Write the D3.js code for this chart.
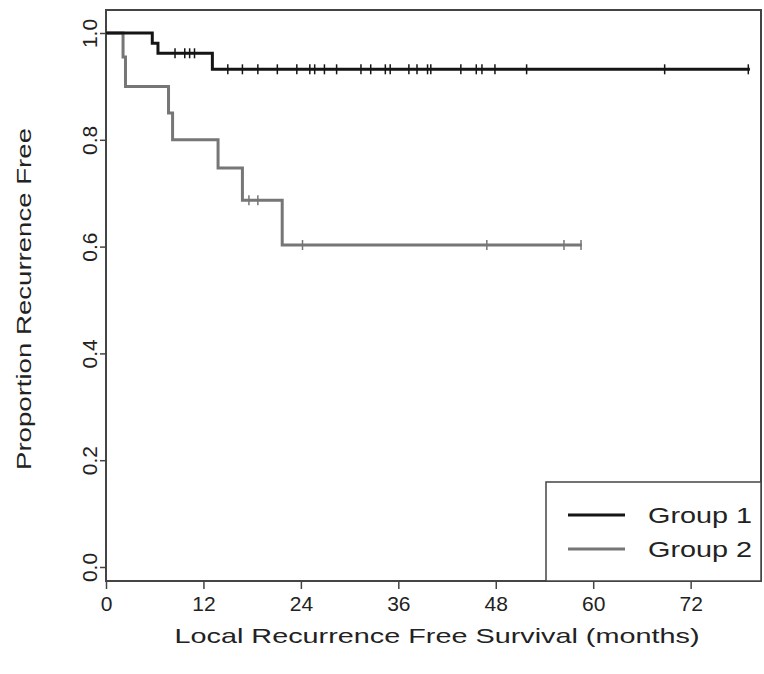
<!DOCTYPE html>
<html>
<head>
<meta charset="utf-8">
<script src="https://cdn.jsdelivr.net/npm/d3@7"></script>
<style>
  body { margin: 0; background: #fff; }
  text { font-family: "Liberation Sans", Arial, sans-serif; fill: #222; }
</style>
</head>
<body>
<svg id="chart" width="764" height="674"></svg>
<script>
// km step points: [months, proportion]
const group1Steps = [[0, 1], [5.7, 0.981], [6.4, 0.962], [13.1, 0.932]];
const group1End = 79.3;
const group1Censor = [8.5, 9.7, 10.3, 10.9, 15.0, 16.8, 18.7, 21.1, 23.5, 25.1, 25.7, 26.9, 28.4,
    31.4, 32.6, 34.4, 35.0, 37.3, 38.3, 39.6, 40.0, 43.7, 45.6, 46.3, 47.9, 51.8, 68.8, 79.1];

const group2Steps = [[0, 1], [2.1, 0.955], [2.4, 0.9], [7.7, 0.85], [8.2, 0.8], [13.8, 0.747], [16.8, 0.687], [21.7, 0.603]];
const group2End = 58.6;
const group2Censor = [17.6, 18.7, 24.2, 46.9, 56.4, 58.5];

const xTicks = [0, 12, 24, 36, 48, 60, 72];
const yTicks = [0, 0.2, 0.4, 0.6, 0.8, 1.0];
const groupNames = ['Group 1', 'Group 2'];
const groupColors = ['#151515', '#767676'];

const box = {left: 106, top: 10, right: 761, bottom: 581};

const x = d3.scaleLinear().domain([0, 72]).range([106, 106 + 72 * 8.12]);
const y = d3.scaleLinear().domain([0, 1]).range([567, 33]);

const svg = d3.select('#chart');

// step value at time t
const stepAt = (steps, t) => {
    let v = steps[0][1];
    steps.forEach(s => { if (s[0] <= t) v = s[1]; });
    return v;
}

const drawGroup = (steps, end, censor, color) => {
    let pts = steps.concat([[end, steps[steps.length - 1][1]]]);
    let line = d3.line()
        .curve(d3.curveStepAfter)
        .x(d => x(d[0]))
        .y(d => y(d[1]));

    svg.append('path')
        .datum(pts)
        .attr('d', line)
        .attr('fill', 'none')
        .attr('stroke', color)
        .attr('stroke-width', 3);

    svg.append('g')
        .selectAll('line')
        .data(censor)
        .join('line')
        .attr('x1', d => x(d))
        .attr('x2', d => x(d))
        .attr('y1', d => y(stepAt(steps, d)) - 5)
        .attr('y2', d => y(stepAt(steps, d)) + 5)
        .attr('stroke', color)
        .attr('stroke-width', 1.5);
}

// axes
const xAxis = svg.append('g')
    .attr('transform', `translate(0,${box.bottom})`)
    .call(d3.axisBottom(x).tickValues(xTicks).tickSize(8).tickPadding(7).tickFormat(d3.format('d')));
xAxis.select('.domain').remove();
xAxis.selectAll('line').attr('stroke', '#444').attr('stroke-width', 1.5);
xAxis.selectAll('text').style('font-size', '21px').attr('fill', '#222');

const yAxis = svg.append('g')
    .attr('transform', `translate(${box.left},0)`)
    .call(d3.axisLeft(y).tickValues(yTicks).tickSize(6).tickFormat(d3.format('.1f')));
yAxis.select('.domain').remove();
yAxis.selectAll('line').attr('stroke', '#444').attr('stroke-width', 1.5);
yAxis.selectAll('text')
    .style('font-size', '21px')
    .attr('fill', '#222')
    .attr('x', 0)
    .attr('dy', 0)
    .attr('text-anchor', 'middle')
    .attr('transform', 'translate(-9,0) rotate(-90)');

// plot frame
svg.append('rect')
    .attr('x', box.left)
    .attr('y', box.top)
    .attr('width', box.right - box.left)
    .attr('height', box.bottom - box.top)
    .attr('fill', 'none')
    .attr('stroke', '#444')
    .attr('stroke-width', 2);

drawGroup(group2Steps, group2End, group2Censor, groupColors[1]);
drawGroup(group1Steps, group1End, group1Censor, groupColors[0]);

// titles
svg.append('text')
    .attr('x', 437)
    .attr('y', 643)
    .attr('text-anchor', 'middle')
    .attr('textLength', 525)
    .attr('lengthAdjust', 'spacingAndGlyphs')
    .style('font-size', '21px')
    .text('Local Recurrence Free Survival (months)');

svg.append('text')
    .attr('transform', 'translate(31,299) rotate(-90)')
    .attr('text-anchor', 'middle')
    .attr('textLength', 342)
    .attr('lengthAdjust', 'spacingAndGlyphs')
    .style('font-size', '21px')
    .text('Proportion Recurrence Free');

// legend
const legend = svg.append('g');
legend.append('rect')
    .attr('x', 546)
    .attr('y', 482)
    .attr('width', box.right - 546)
    .attr('height', box.bottom - 482)
    .attr('fill', '#fff')
    .attr('stroke', '#444')
    .attr('stroke-width', 1.5);

const items = legend.selectAll('g.item')
    .data(groupNames)
    .join('g')
    .attr('class', 'item')
    .attr('transform', (d, i) => `translate(0,${515 + i * 34})`);

items.append('line')
    .attr('x1', 568)
    .attr('x2', 625)
    .attr('stroke', (d, i) => groupColors[i])
    .attr('stroke-width', 3);

items.append('text')
    .attr('x', 648)
    .attr('y', 8)
    .attr('textLength', 104)
    .attr('lengthAdjust', 'spacingAndGlyphs')
    .style('font-size', '22px')
    .text(d => d);
</script>
</body>
</html>
